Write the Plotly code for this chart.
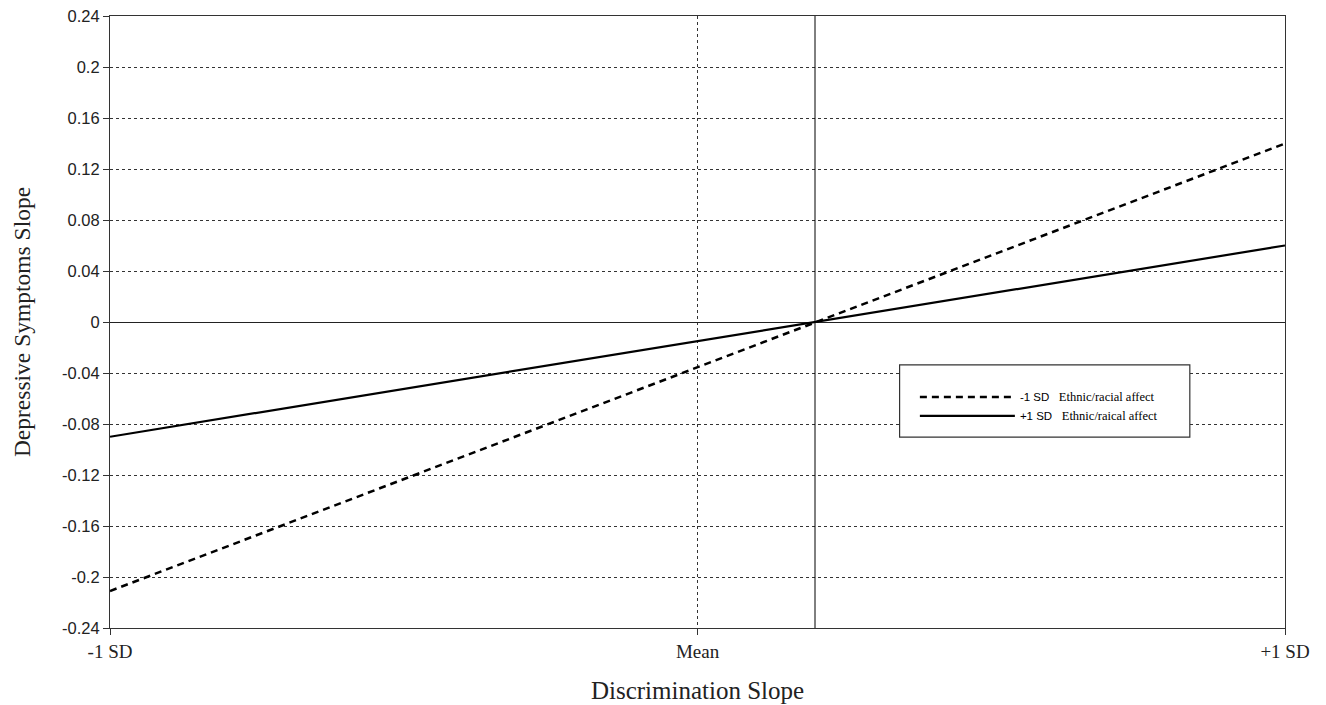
import plotly.graph_objects as go

# Data
x_positions = [-1, 0, 1]
x_tick_labels = ["-1 SD", "Mean", "+1 SD"]
low_affect = [-0.211, -0.0355, 0.140]     # -1 SD Ethnic/racial affect
high_affect = [-0.090, -0.015, 0.060]     # +1 SD Ethnic/raical affect
series_names = ["-1 SD   <span style='font-family:Liberation Serif;font-size:12.5px'>Ethnic/racial affect</span>",
                "+1 SD   <span style='font-family:Liberation Serif;font-size:12.5px'>Ethnic/raical affect</span>"]
y_ticks = [-0.24, -0.2, -0.16, -0.12, -0.08, -0.04, 0, 0.04, 0.08, 0.12, 0.16, 0.2, 0.24]
y_tick_labels = ["-0.24", "-0.2", "-0.16", "-0.12", "-0.08", "-0.04", "0",
                 "0.04", "0.08", "0.12", "0.16", "0.2", "0.24"]
crossover_x = 0.2

fig = go.Figure()
fig.add_trace(go.Scatter(x=x_positions, y=low_affect, mode="lines", name=series_names[0],
                         line=dict(color="black", width=2.5, dash="7px,5px")))
fig.add_trace(go.Scatter(x=x_positions, y=high_affect, mode="lines", name=series_names[1],
                         line=dict(color="black", width=2.2)))

# vertical line at crossover
fig.add_shape(type="line", xref="x", yref="y", x0=crossover_x, x1=crossover_x,
              y0=y_ticks[0], y1=y_ticks[-1], line=dict(color="black", width=1))

# legend box
fig.add_shape(type="rect", xref="paper", yref="paper", x0=0.672, x1=0.919, y0=0.312, y1=0.43,
              line=dict(color="#333", width=1.2), fillcolor="white", layer="above")

fig.update_layout(
    width=1326, height=705,
    margin=dict(l=110, r=41, t=16, b=77, autoexpand=False),
    paper_bgcolor="white", plot_bgcolor="white",
    showlegend=True,
    legend=dict(x=0.685, y=0.362, xanchor="left", yanchor="middle",
                bgcolor="rgba(0,0,0,0)", borderwidth=0,
                font=dict(family="Liberation Sans", size=11.5, color="black"),
                itemwidth=95, tracegroupgap=0),
    xaxis=dict(range=[-1, 1], tickvals=x_positions, ticktext=x_tick_labels,
               showgrid=True, gridcolor="#333", gridwidth=1, griddash="3px,3px",
               zeroline=False, showline=True, linecolor="#333", linewidth=1.2, mirror=True,
               ticks="outside", ticklen=6, tickcolor="#333", automargin=False,
               tickfont=dict(family="Liberation Serif", size=19, color="#222"),
               title=dict(text="Discrimination Slope", standoff=20,
                          font=dict(family="Liberation Serif", size=25, color="#222"))),
    yaxis=dict(range=[-0.24, 0.24], tickvals=y_ticks, ticktext=y_tick_labels,
               showgrid=True, gridcolor="#333", gridwidth=1, griddash="3px,3px",
               zeroline=True, zerolinecolor="#222", zerolinewidth=1,
               showline=True, linecolor="#333", linewidth=1.2, mirror=True,
               ticks="outside", ticklen=6, tickcolor="#333", automargin=False,
               tickfont=dict(family="Liberation Sans", size=16.5, color="#222"),
               title=dict(text="Depressive Symptoms Slope", standoff=24,
                          font=dict(family="Liberation Serif", size=23.5, color="#222"))),
)

fig.write_html("out.html")
